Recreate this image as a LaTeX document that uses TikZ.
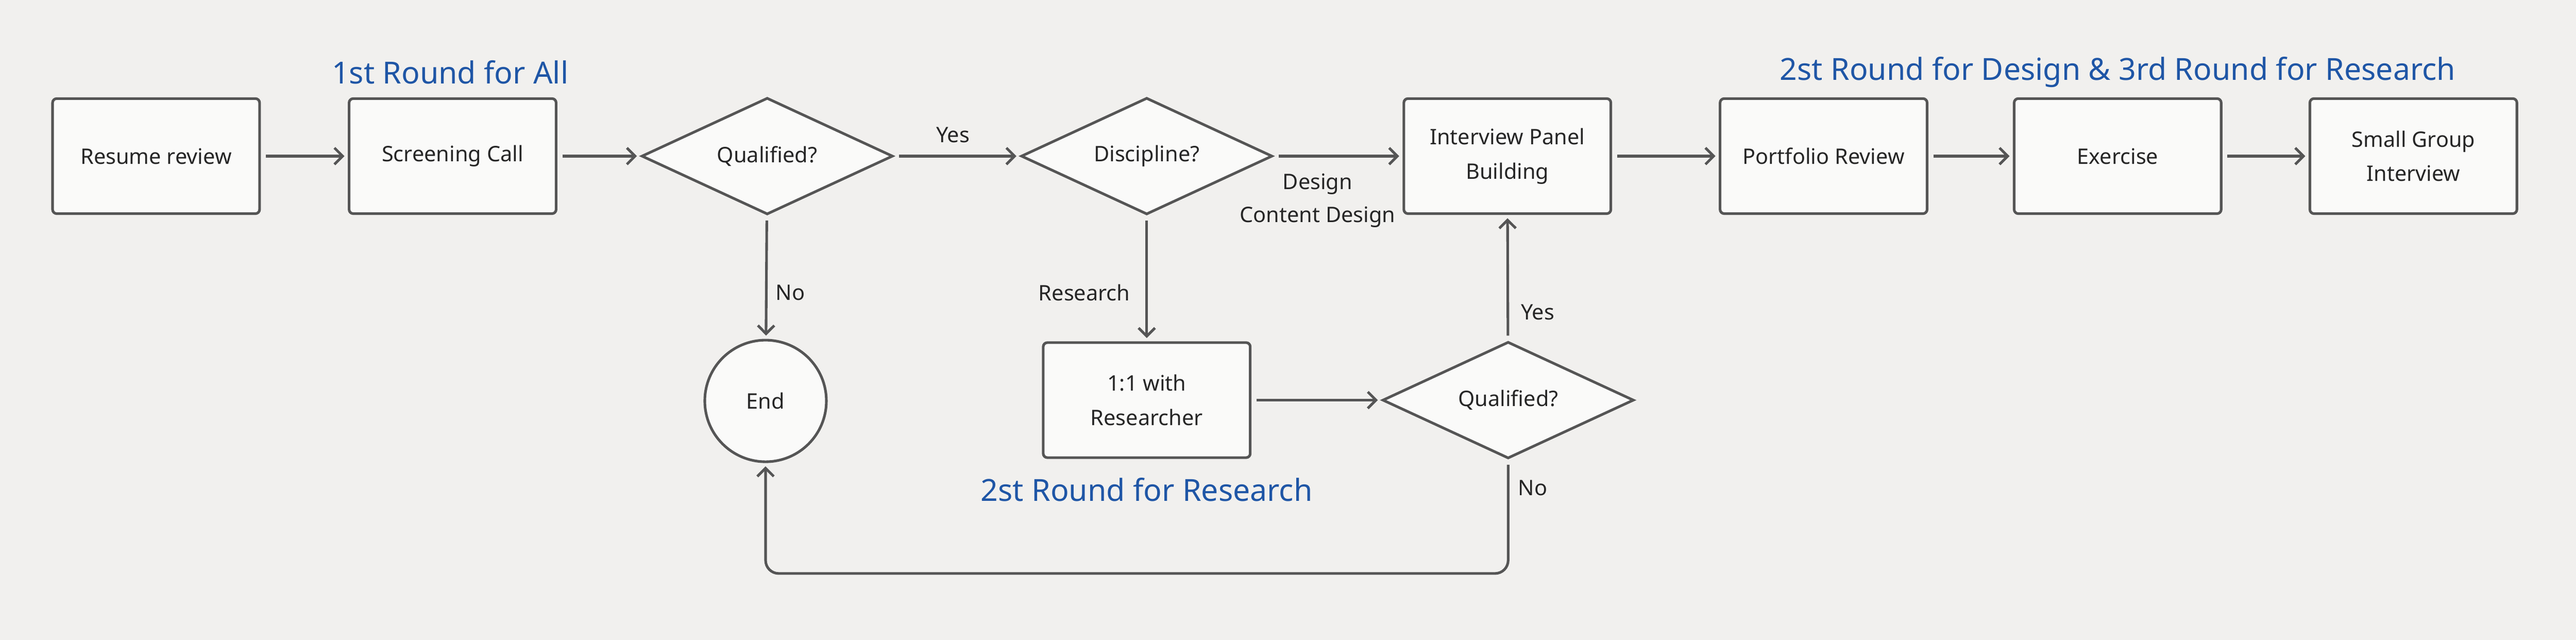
\documentclass[tikz,border=0pt]{standalone}
\usepackage{fontspec}
\setmainfont{Noto Sans}
\usetikzlibrary{shapes.geometric,arrows.meta}
\definecolor{bg}{HTML}{F1F0EE}
\definecolor{fillc}{HTML}{FAFAF9}
\definecolor{linec}{HTML}{555555}
\definecolor{bluec}{HTML}{1F56A6}
\begin{document}
\begin{tikzpicture}[x=1pt,y=-1pt,
  box/.style={draw=linec,fill=fillc,line width=1.6pt,rounded corners=2.5pt,minimum width=126pt,minimum height=70pt,align=center,font=\fontsize{13}{21}\selectfont,text=black!85},
  dia/.style={draw=linec,fill=fillc,line width=1.6pt,diamond,aspect=2.15,minimum width=153pt,minimum height=71pt,inner sep=0pt,font=\fontsize{13}{21}\selectfont,text=black!85},
  arr/.style={draw=linec,line width=1.6pt,shorten <=3pt,shorten >=2pt,-{Straight Barb[length=5pt,width=10pt]}},
  lab/.style={font=\fontsize{13}{20}\selectfont,text=black!85},
  ttl/.style={font=\fontsize{18.5}{22}\selectfont,text=bluec}]
\fill[bg] (0,0) rectangle (1568,389.4);
\useasboundingbox (0,0) rectangle (1568,389.4);
\node[box] (rr) at (95,95) {Resume review};
\node[box] (sc) at (275.5,95) {Screening Call};
\node[dia] (q1) at (467,95) {Qualified?};
\node[dia] (di) at (698,95) {Discipline?};
\node[box] (ip) at (917.5,95) {Interview Panel\\Building};
\node[box] (pr) at (1110,95) {Portfolio Review};
\node[box] (ex) at (1289,95) {Exercise};
\node[box] (sg) at (1469,95) {Small Group\\Interview};
\node[circle,draw=linec,fill=fillc,line width=1.6pt,minimum size=74pt,lab] (en) at (466,244) {End};
\node[box] (rs) at (698,243.5) {1:1 with\\Researcher};
\node[dia] (q2) at (918,243.5) {Qualified?};
\node[ttl] (t1) at (274,44) {1st Round for All};
\node[ttl] (t2) at (1289,44) {2st Round for Design \& 3rd Round for Research};
\node[ttl] (t3) at (698,298) {2st Round for Research};
\draw[arr] (rr) -- (sc);
\draw[arr] (sc) -- (q1);
\draw[arr] (q1) -- (di);
\node[lab] (yl) at (580,82) {Yes};
\draw[arr] (di) -- (ip);
\node[lab,align=center] (dl) at (802,122) {Design\\Content Design};
\draw[arr] (q1) -- (en);
\node[lab] (nl) at (481,178) {No};
\draw[arr] (di) -- (rs);
\node[lab] (rl) at (660,178) {Research};
\draw[arr] (rs) -- (q2);
\draw[arr] (q2) -- (ip);
\node[lab] (yl2) at (936,190) {Yes};
\draw[arr] (ip) -- (pr);
\draw[arr] (pr) -- (ex);
\draw[arr] (ex) -- (sg);
\coordinate (c1) at (918,349);
\coordinate (c2) at (466,349);
\draw[arr,rounded corners=8pt] (q2.south) -- (c1) -- (c2) -- (en.south);
\node[lab] (nol) at (933,297) {No};
\end{tikzpicture}
\end{document}
